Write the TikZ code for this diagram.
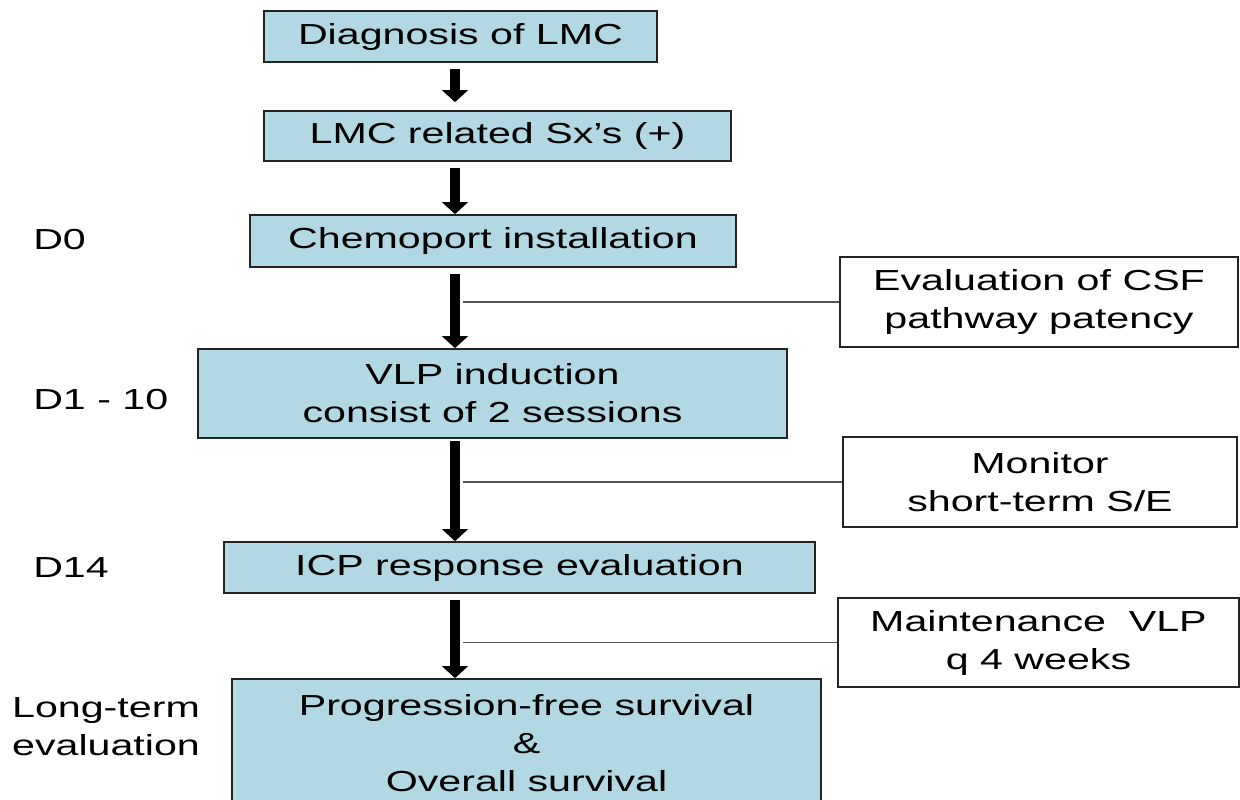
\documentclass[tikz,border=0pt]{standalone}
\usepackage{fontspec}
\setmainfont{Liberation Sans}[FakeStretch=1.42]
\usetikzlibrary{arrows.meta}

\definecolor{boxblue}{RGB}{178,216,228}
\definecolor{boxline}{RGB}{35,35,35}
\definecolor{tapgray}{RGB}{85,85,85}

\tikzset{
  stagebox/.style={draw=boxline, line width=1.2pt, fill=boxblue, inner sep=0pt, align=center,
    font=\fontsize{21.75pt}{28.5pt}\selectfont},
  notebox/.style={draw=boxline, line width=1.2pt, fill=white, inner sep=0pt, align=center,
    font=\fontsize{21.75pt}{28.5pt}\selectfont},
  daylabel/.style={inner sep=0pt, align=center, font=\fontsize{21.75pt}{28.5pt}\selectfont},
  flowarrow/.style={line width=8pt, -{Triangle[width=19pt,length=9pt]}, shorten <=5pt},
  tapline/.style={draw=tapgray, line width=1pt},
}

\begin{document}
\begin{tikzpicture}[x=0.75pt,y=0.75pt,yscale=-1,xscale=1]
\clip (0,0) rectangle (1240,800);

%Shape: stage boxes
	\node [stagebox, minimum width=294.75pt, minimum height=38.25pt] (diag) at (460.5,36.5) {Diagnosis of LMC};
	\node [stagebox, minimum width=350.25pt, minimum height=37.5pt] (sympt) at (497.5,136) {LMC related Sx’s (+)};
	\node [stagebox, minimum width=364.5pt, minimum height=39pt] (port) at (493,241) {Chemoport installation};
	\node [stagebox, minimum width=441.75pt, minimum height=66.75pt] (induct) at (492.5,393.5) {VLP induction\\consist of 2 sessions};
	\node [stagebox, minimum width=443.25pt, minimum height=38.25pt] (icp) at (519.5,567.5) {ICP response evaluation};
	\node [stagebox, minimum width=441.75pt, minimum height=96pt] (surv) at (526.5,743) {Progression-free survival\\\&\\Overall survival};

%Shape: note boxes
	\node [notebox, minimum width=298.5pt, minimum height=67.5pt] (csf) at (1039,302) {Evaluation of CSF\\pathway patency};
	\node [notebox, minimum width=295.5pt, minimum height=67.5pt] (monit) at (1040,482) {Monitor\\short-term S/E};
	\node [notebox, minimum width=300.75pt, minimum height=66.75pt] (maint) at (1038.5,642.5) {Maintenance~~VLP\\q 4 weeks};

% Text Node
	\node [daylabel, anchor=west] (d0) at (33,240) {D0};
	\node [daylabel, anchor=west] (d1) at (33,400) {D1 - 10};
	\node [daylabel, anchor=west] (d14) at (33,568) {D14};
	\node [daylabel] (longterm) at (106,727) {Long-term\\evaluation};

%Straight Lines
	\coordinate (spine) at (455,0);
	\coordinate (tap) at (463,0);
	\draw [flowarrow, shorten >=6pt] (diag.south -| spine) -- (sympt.north -| spine);
	\draw [flowarrow] (sympt.south -| spine) -- (port.north -| spine);
	\draw [flowarrow] (port.south -| spine) -- (induct.north -| spine);
	\draw [flowarrow, shorten <=2pt] (induct.south -| spine) -- (icp.north -| spine);
	\draw [flowarrow] (icp.south -| spine) -- (surv.north -| spine);

	\draw [tapline] (csf.west) -- (csf.west -| tap);
	\draw [tapline] (monit.west) -- (monit.west -| tap);
	\draw [tapline] (maint.west) -- (maint.west -| tap);

\end{tikzpicture}
\end{document}
